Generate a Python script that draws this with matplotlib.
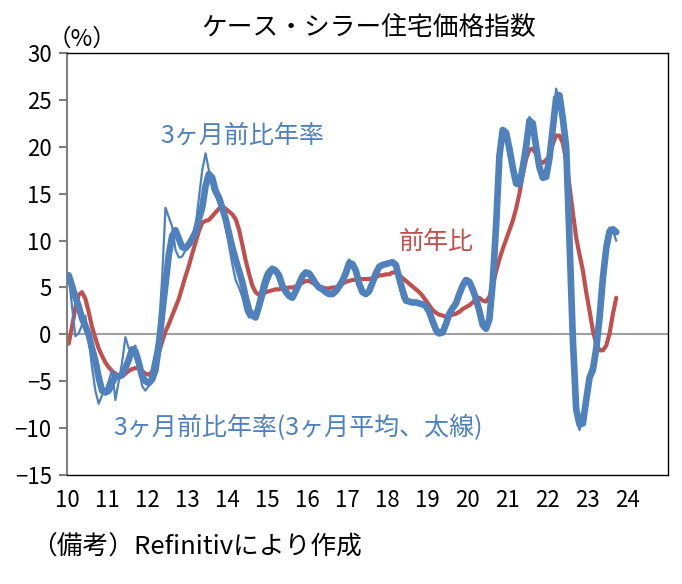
import matplotlib
matplotlib.use('Agg')
import matplotlib.pyplot as plt
import numpy as np

plt.rcParams['font.family'] = ['Noto Sans CJK JP', 'DejaVu Sans']

# monthly data, Jan 2010 - Sep 2023
start_year = 2010

# 前年比 (YoY, %)
yoy = [
    -1.0, 0.8, 2.8, 4.2, 4.5, 3.8, 2.4, 0.8, -0.4, -1.5, -2.3, -3.0,        # 2010
    -3.5, -3.9, -4.2, -4.4, -4.5, -4.2, -3.9, -3.7, -3.6, -3.6, -3.9, -4.2,  # 2011
    -4.3, -4.0, -3.2, -2.0, -0.8, 0.3, 1.1, 2.0, 2.9, 3.8, 5.0, 6.2,         # 2012
    7.3, 8.6, 9.8, 11.0, 11.9, 12.1, 12.2, 12.6, 13.0, 13.4, 13.6, 13.4,     # 2013
    13.1, 12.8, 12.3, 11.2, 9.6, 7.9, 6.5, 5.2, 4.5, 4.2, 4.2, 4.5,          # 2014
    4.6, 4.7, 4.8, 4.8, 4.9, 4.9, 5.0, 5.0, 5.1, 5.3, 5.5, 5.7,              # 2015
    5.7, 5.5, 5.3, 5.1, 5.0, 4.9, 4.9, 5.0, 5.0, 5.2, 5.4, 5.6,              # 2016
    5.7, 5.8, 5.8, 5.9, 5.9, 5.9, 5.9, 6.0, 6.1, 6.3, 6.3, 6.4,              # 2017
    6.4, 6.6, 6.6, 6.3, 6.0, 5.7, 5.4, 5.1, 4.8, 4.5, 4.1, 3.6,              # 2018
    3.1, 2.6, 2.3, 2.1, 2.0, 1.9, 2.0, 2.1, 2.2, 2.4, 2.7, 2.9,              # 2019
    3.1, 3.4, 3.8, 3.9, 3.6, 3.5, 4.0, 5.2, 6.7, 8.0, 9.1, 10.1,             # 2020
    11.1, 12.1, 13.4, 15.0, 17.0, 18.7, 19.7, 19.8, 19.2, 18.5, 18.3, 18.6,  # 2021
    19.0, 20.3, 21.2, 21.2, 20.4, 18.5, 15.8, 13.0, 10.3, 8.5, 6.8, 4.5,     # 2022
    2.5, 0.4, -1.0, -1.7, -1.7, -1.2, 0.1, 2.2, 3.9,                         # 2023
]

# 3ヶ月前比年率 (thin line)
ann3m = [
    6.3, 3.0, -0.2, 0.1, 1.0, 2.0, -0.5, -3.5, -6.0, -7.4, -6.5, -6.0,
    -5.0, -3.8, -7.0, -5.0, -3.0, -0.3, -1.5, -1.5, -1.2, -3.5, -5.5, -6.0,
    -5.5, -3.5, -1.8, 0.4, 6.0, 13.5, 12.5, 11.5, 9.0, 8.2, 8.3, 9.0,
    9.8, 10.5, 11.5, 14.5, 17.5, 19.3, 17.5, 15.5, 14.8, 14.0, 13.4, 11.5,
    9.5, 7.5, 5.8, 5.0, 4.0, 2.5, 1.8, 1.9, 2.5, 4.0, 5.5, 6.5,
    7.0, 7.2, 6.5, 5.6, 4.7, 4.2, 3.9, 4.1, 5.0, 5.8, 6.5, 6.5,
    6.3, 5.8, 5.2, 4.9, 4.6, 4.3, 4.2, 4.4, 4.8, 5.4, 6.2, 7.2,
    8.0, 7.3, 6.3, 4.9, 4.3, 4.2, 4.9, 5.9, 6.9, 7.4, 7.5, 7.6,
    7.7, 7.8, 6.8, 5.2, 3.8, 3.5, 3.5, 3.4, 3.3, 3.3, 3.1, 2.7,
    2.0, 0.9, 0.0, 0.0, 0.6, 1.6, 2.5, 3.0, 3.6, 4.7, 5.6, 5.8,
    5.5, 4.5, 3.3, 2.0, 0.6, 0.5, 2.0, 7.0, 13.5, 20.5, 22.0, 21.0,
    19.5, 17.0, 15.8, 16.5, 18.5, 21.0, 23.2, 22.0, 19.3, 17.3, 16.5, 17.3,
    19.5, 23.0, 26.2, 25.0, 22.0, 18.5, 8.0, -2.5, -9.0, -10.2, -9.0, -6.5,
    -4.0, -3.0, -0.5, 3.0, 7.5, 10.3, 11.4, 11.0, 10.0,
]

# 3ヶ月前比年率の3ヶ月平均 (thick line)
ann3m_avg = [
    6.3, 5.2, 4.0, 3.0, 1.7, 0.9, 0.0, -1.5, -2.8, -4.6, -6.0, -6.2,
    -6.0, -5.2, -4.5, -4.5, -4.3, -3.6, -2.7, -1.6, -1.8, -3.0, -4.5, -5.0,
    -5.2, -4.8, -3.8, -1.3, 2.2, 5.3, 8.5, 10.5, 11.1, 10.2, 9.3, 9.2,
    9.6, 10.2, 10.9, 12.3, 13.5, 15.8, 17.1, 16.7, 15.3, 14.6, 13.5, 12.3,
    10.8, 9.3, 8.0, 6.8, 5.6, 4.0, 2.6, 2.0, 1.8, 3.0, 4.3, 5.5,
    6.4, 7.0, 6.8, 6.3, 5.2, 4.6, 4.1, 3.9, 4.6, 5.4, 6.2, 6.6,
    6.5, 6.0, 5.4, 5.0, 4.8, 4.5, 4.3, 4.3, 4.6, 5.1, 5.7, 6.5,
    7.6, 7.5, 6.8, 5.4, 4.5, 4.3, 4.6, 5.5, 6.5, 7.2, 7.4, 7.5,
    7.6, 7.7, 7.4, 6.0, 4.7, 3.6, 3.5, 3.4, 3.4, 3.3, 3.2, 3.0,
    2.4, 1.4, 0.5, 0.1, 0.2, 1.1, 2.2, 2.8, 3.3, 4.3, 5.2, 5.8,
    5.6, 4.8, 3.8, 2.5, 1.0, 0.6, 1.6, 5.5, 11.5, 19.0, 21.8, 21.5,
    19.8, 17.8, 16.1, 16.0, 17.8, 20.0, 22.8, 22.5, 20.0, 17.8, 16.7, 16.8,
    18.8, 22.0, 25.2, 25.5, 23.0, 20.0, 10.0, -0.5, -8.0, -9.6, -9.5, -7.0,
    -4.6, -3.8, -1.5, 1.8, 6.0, 9.2, 11.0, 11.2, 10.9,
]

year_ticks = list(range(2010, 2025))
year_labels = ['10', '11', '12', '13', '14', '15', '16', '17', '18', '19',
               '20', '21', '22', '23', '24']
y_ticks = [-15, -10, -5, 0, 5, 10, 15, 20, 25, 30]

blue = '#4f81bd'
red = '#c0504d'

x = start_year + (np.arange(len(yoy)) + 0.5) / 12

fig = plt.figure(figsize=(6.82, 5.84), dpi=100)
ax = fig.add_axes([0.0982, 0.1866, 0.8813, 0.7226])

ax.axhline(0, color='#a0a0a0', lw=1.5, zorder=1)
ax.plot(x, yoy, color=red, lw=3, zorder=2, solid_capstyle='round')
ax.plot(x, ann3m_avg, color=blue, lw=4.8, zorder=3, solid_capstyle='round')
ax.plot(x, ann3m, color=blue, lw=1.6, zorder=4)

ax.set_xlim(2010, 2025)
ax.set_ylim(-15, 30)
ax.set_xticks(year_ticks)
ax.set_xticklabels(year_labels)
ax.set_yticks(y_ticks)

for side in ['top', 'right', 'bottom']:
    ax.spines[side].set_color('black')
    ax.spines[side].set_linewidth(1.0)
ax.spines['left'].set_color('#808080')
ax.spines['left'].set_linewidth(1.5)

ax.tick_params(axis='y', length=6, width=1.5, color='#808080', pad=5, labelsize=16)
ax.tick_params(axis='x', length=0, pad=10, labelsize=16)

# labels
fig.text(0.541, 0.952, 'ケース・シラー住宅価格指数', ha='center', va='center', fontsize=18.5)
ax.text(-0.032, 1.005, '（%）', transform=ax.transAxes, ha='left', va='bottom', fontsize=17)
ax.text(2012.33, 21.2, '3ヶ月前比年率', color=blue, ha='left', va='center', fontsize=18)
ax.text(2018.28, 9.9, '前年比', color=red, ha='left', va='center', fontsize=18)
ax.text(2011.15, -10.0, '3ヶ月前比年率(3ヶ月平均、太線)', color=blue, ha='left', va='center', fontsize=18)
fig.text(0.045, 0.062, '（備考）Refinitivにより作成', ha='left', va='center', fontsize=18.5)

fig.savefig('out.png', dpi=100)
